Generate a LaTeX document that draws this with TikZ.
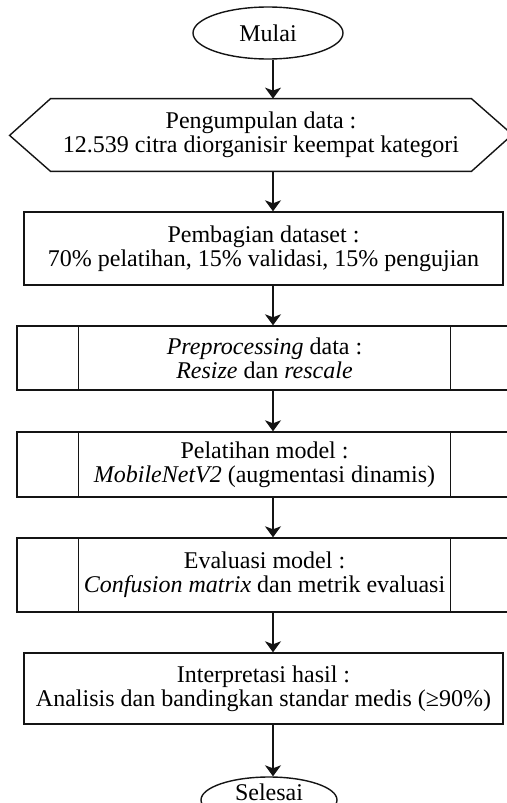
\documentclass[tikz,border=0pt]{standalone}
\usepackage{fontspec}
\setmainfont{Liberation Serif}
\usepackage{xcolor}
\usepackage{tikz}
\usetikzlibrary{shapes.geometric,arrows.meta}
\definecolor{primary}{RGB}{20, 20, 20}
\tikzset{
  terminal/.style={ellipse,draw=primary,line width=0.7pt,inner sep=0pt},
  procbox/.style={rectangle,draw=primary,line width=0.7pt,align=center,inner sep=0pt,
    minimum width=239.5pt},
  subproc/.style={procbox,minimum width=247.5pt},
  flow/.style={primary,line width=0.7pt,-{Stealth[width=8pt,length=5.5pt,inset=1.5pt]}}
}
\begin{document}
\begin{tikzpicture}[x=0.5pt,y=-0.5pt,font=\fontsize{12}{12}\selectfont]
\useasboundingbox (0,0) rectangle (507,803);
\coordinate (ax) at (273,0);
\node[terminal,minimum width=75pt,minimum height=26pt] (mulai) at (268,33) {Mulai};
\node[align=center,inner sep=0pt,minimum width=210pt,minimum height=36pt] (kumpul) at (261,135)
  {Pengumpulan data :\\12.539 citra diorganisir keempat kategori};
\draw[primary,line width=0.7pt] (kumpul.north west) -- (kumpul.north east) -- ++(41,36)
  -- (kumpul.south east) -- (kumpul.south west) -- ++(-41,-36) -- cycle;
\node[procbox,minimum height=36.5pt] (bagi) at (263.5,248.5)
  {Pembagian dataset :\\70\% pelatihan, 15\% validasi, 15\% pengujian};
\node[subproc,minimum height=32pt] (prep) at (264.5,358)
  {\textit{Preprocessing} data :\\\textit{Resize} dan \textit{rescale}};
\node[subproc,minimum height=32.5pt] (latih) at (264.5,464.5)
  {Pelatihan model :\\\textit{MobileNetV2} (augmentasi dinamis)};
\node[subproc,minimum height=37pt] (eval) at (264.5,575)
  {Evaluasi model :\\\textit{Confusion matrix} dan metrik evaluasi};
\node[procbox,minimum height=35.5pt] (hasil) at (263.5,688.5)
  {Interpretasi hasil :\\Analisis dan bandingkan standar medis (≥90\%)};
\node[terminal,minimum width=68pt,minimum height=23pt,text height=0pt,text depth=0pt]
  (selesai) at (269,800) {Selesai};
\draw[primary,line width=0.7pt] ([xshift=31pt]prep.north west) -- ([xshift=31pt]prep.south west);
\draw[primary,line width=0.7pt] ([xshift=-31pt]prep.north east) -- ([xshift=-31pt]prep.south east);
\draw[primary,line width=0.7pt] ([xshift=31pt]latih.north west) -- ([xshift=31pt]latih.south west);
\draw[primary,line width=0.7pt] ([xshift=-31pt]latih.north east) -- ([xshift=-31pt]latih.south east);
\draw[primary,line width=0.7pt] ([xshift=31pt]eval.north west) -- ([xshift=31pt]eval.south west);
\draw[primary,line width=0.7pt] ([xshift=-31pt]eval.north east) -- ([xshift=-31pt]eval.south east);
\draw[flow] (mulai.south -| ax) -- (kumpul.north -| ax);
\draw[flow] (kumpul.south -| ax) -- (bagi.north -| ax);
\draw[flow] (bagi.south -| ax) -- (prep.north -| ax);
\draw[flow] (prep.south -| ax) -- (latih.north -| ax);
\draw[flow] (latih.south -| ax) -- (eval.north -| ax);
\draw[flow] (eval.south -| ax) -- (hasil.north -| ax);
\draw[flow] (hasil.south -| ax) -- (selesai.north -| ax);
\end{tikzpicture}
\end{document}
